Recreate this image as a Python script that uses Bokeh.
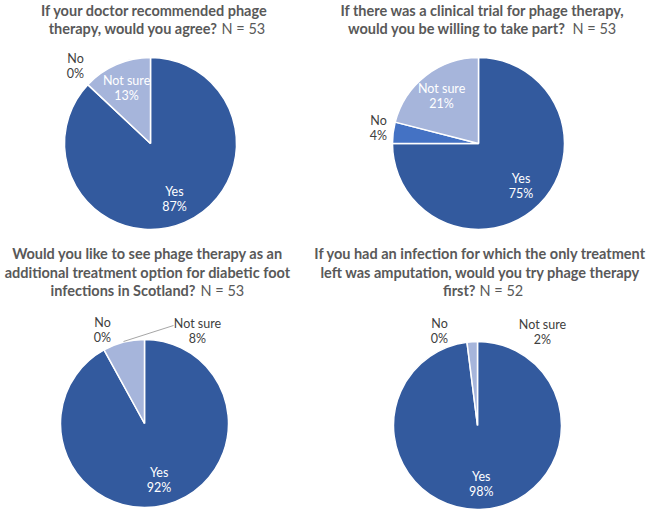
import numpy as np
from bokeh.plotting import figure
from bokeh.models import Range1d
from bokeh.embed import file_html
from bokeh.resources import INLINE
from bokeh.core.properties import value

# ---------------- data ----------------
categories = ["Yes", "No", "Not sure"]
q1_values = [87, 0, 13]
q2_values = [75, 4, 21]
q3_values = [92, 0, 8]
q4_values = [98, 0, 2]

q1_title = [("If your doctor recommended phage", ""),
            ("therapy, would you agree?", "N = 53")]
q2_title = [("If there was a clinical trial for phage therapy,", ""),
            ("would you be willing to take part?", "N = 53")]
q3_title = [("Would you like to see phage therapy as an", ""),
            ("additional treatment option for diabetic foot", ""),
            ("infections in Scotland?", "N = 53")]
q4_title = [("If you had an infection for which the only treatment", ""),
            ("left was amputation, would you try phage therapy", ""),
            ("first?", "N = 52")]

# ---------------- style / layout ----------------
colors = ["#335A9E", "#4472C4", "#A6B5DB"]
inside_text = "#FFFFFF"
outside_text = "#404040"
title_color = "#595959"
FONT = "Lato"
W, H = 650, 511
PAGE_H = 511

panels = [
    dict(values=q1_values, title=q1_title, cx=150, cy=143, r=86,
         tx=154, ty=[10, 28], split=[None, (217, 221)],
         outside={1: (-75, 78)}, leader=None),
    dict(values=q2_values, title=q2_title, cx=478, cy=143, r=86,
         tx=482, ty=[10, 28], split=[None, (565, 572)],
         outside={1: (-100, 16)}, leader=None),
    dict(values=q3_values, title=q3_title, cx=144, cy=423, r=84,
         tx=147, ty=[253, 272, 290], split=[None, None, (195, 200)],
         outside={1: (-42, 94), 2: (53, 93)}, leader=((-21, 82), (29, 98))),
    dict(values=q4_values, title=q4_title, cx=477, cy=425, r=84,
         tx=480, ty=[253, 272, 290], split=[None, None, (475, 479)],
         outside={1: (-38, 95), 2: (65, 94)}, leader=None),
]

p = figure(width=W, height=H, output_backend="svg", toolbar_location=None,
           x_range=Range1d(0, W), y_range=Range1d(PAGE_H - H, PAGE_H),
           min_border=0, min_border_left=0, min_border_right=0,
           min_border_top=0, min_border_bottom=0)
p.axis.visible = False
p.grid.visible = False
p.outline_line_color = None
p.background_fill_color = "white"


def Y(py):
    return PAGE_H - py


for pn in panels:
    vals = np.array(pn["values"], dtype=float)
    frac = vals / vals.sum()
    cum = np.concatenate([[0], np.cumsum(frac)])
    cx, cy, r = pn["cx"], Y(pn["cy"]), pn["r"]

    # wedges: start at 12 o'clock, clockwise
    starts, ends, fills = [], [], []
    for i in range(len(vals)):
        if frac[i] <= 0:
            continue
        a0 = np.pi / 2 - 2 * np.pi * cum[i]
        a1 = np.pi / 2 - 2 * np.pi * cum[i + 1]
        starts.append(a1)
        ends.append(a0)
        fills.append(colors[i])
    p.wedge(x=[cx] * len(starts), y=[cy] * len(starts), radius=r,
            radius_units="screen", start_angle=starts, end_angle=ends,
            direction="anticlock", fill_color=fills, line_color="white",
            line_width=1.5)

    # leader line
    if pn["leader"] is not None:
        (x0, y0), (x1, y1) = pn["leader"]
        p.line(x=[cx + x0, cx + x1], y=[cy + y0, cy + y1],
               line_color="#A6A6A6", line_width=1)

    # data labels
    for i in range(len(vals)):
        if i in pn["outside"]:
            dx, dy = pn["outside"][i]
            col = outside_text
        else:
            mid = 2 * np.pi * (cum[i] + cum[i + 1]) / 2
            dx = 0.7 * r * np.sin(mid)
            dy = 0.7 * r * np.cos(mid)
            col = inside_text
        lx, ly = cx + dx, cy + dy
        p.text(x=[lx, lx], y=[ly + 7.5, ly - 7.5],
               text=[categories[i], f"{int(vals[i])}%"],
               text_font=value(FONT), text_font_size="12.5px",
               text_color=col, text_align="center", text_baseline="middle")

    # titles
    for (bold, normal), ty, sp in zip(pn["title"], pn["ty"], pn["split"]):
        yy = Y(ty)
        if sp is None:
            p.text(x=[pn["tx"]], y=[yy], text=[bold], text_font=value(FONT),
                   text_font_size="14.5px", text_font_style="bold",
                   text_color=title_color, text_align="center",
                   text_baseline="middle")
        else:
            p.text(x=[sp[0]], y=[yy], text=[bold], text_font=value(FONT),
                   text_font_size="14.5px", text_font_style="bold",
                   text_color=title_color, text_align="right",
                   text_baseline="middle")
            p.text(x=[sp[1]], y=[yy], text=[normal], text_font=value(FONT),
                   text_font_size="14.5px", text_font_style="normal",
                   text_color=title_color, text_align="left",
                   text_baseline="middle")

open("out.html", "w").write(file_html(p, INLINE))
